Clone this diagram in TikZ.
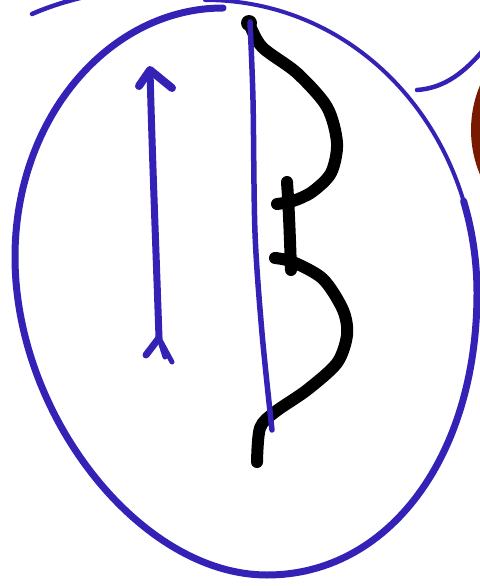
\documentclass[tikz,border=0pt]{standalone}
\usepackage{xcolor}
\definecolor{sketchblue}{HTML}{3322B5}
\definecolor{sketchred}{HTML}{781A00}
\usetikzlibrary{calc}
\tikzset{
  sketchink/.style={draw=sketchblue,line cap=round,line join=round},
  sketchbow/.style={draw=black,line width=12pt,line cap=round,line join=round},
}

\begin{document}
\begin{tikzpicture}[x=1pt,y=-1pt]
\useasboundingbox (0,0) rectangle (479,586);
% neighbouring shapes cut by the frame
\draw[sketchink,line width=4.5pt] (32,14) .. controls (48,7) and (64,2) .. (80,-2);
\draw[sketchink,line width=4.5pt] (417,90) .. controls (445,88) and (465,72) .. (485,48);
\fill[sketchred] (586,130) circle [radius=115];
% ring
\draw[sketchink,line width=4pt] (477,293) .. controls (477,133) and (360,0) .. (205,0);
\draw[sketchink,line width=7pt] (223,8) .. controls (110,8) and (15,117) .. (15,257)
  .. controls (15,416) and (141,575) .. (267,575)
  .. controls (389,575) and (477,456) .. (477,293)
  .. controls (477,261) and (472.3,230.1) .. (463.6,201.1);
% bow
\fill (249,23) circle [radius=8];
\draw[sketchbow] plot[smooth] coordinates {(249,23) (262,47) (297,73) (327,107) (337,143) (331,173) (312,192) (293,201) (277,204)};
\draw[sketchbow] (287,182) .. controls (289,210) and (290,240) .. (291,270);
\draw[sketchbow] plot[smooth] coordinates {(275,258) (293,262) (323,279) (343,310) (347,335) (337,363) (307,390) (275,412) (260,428) (257,462)};
\draw[sketchink,line width=5.5pt] plot[smooth] coordinates {(250,22) (253,100) (255,233) (262,333) (272,430)};
% arrow
\coordinate (tip) at (150,70);
\coordinate (nock) at (159,338);
\coordinate (wingl) at (139,86);
\coordinate (wingr) at (172,88);
\draw[sketchink,line width=7pt] (nock) .. controls (156,250) and (152,150) .. (tip);
\draw[sketchink,line width=8pt] (wingl) -- (tip) -- (wingr);
\draw[sketchink,line width=7pt] (nock) -- (146,355);
\draw[sketchink,line width=5pt] (nock) -- (165,357);
\draw[sketchink,line width=5pt] (nock) -- (172,362);
\end{tikzpicture}
\end{document}
